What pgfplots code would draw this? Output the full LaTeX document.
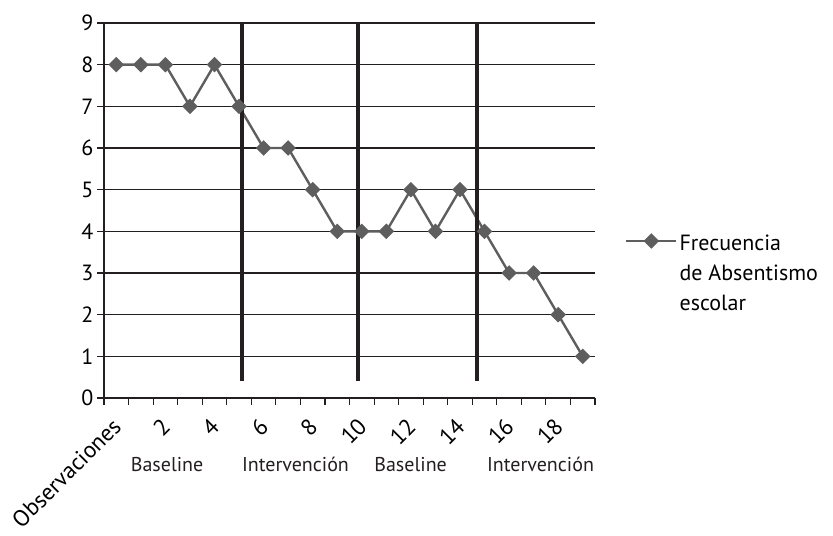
\documentclass[border=0pt]{standalone}
\usepackage{fontspec}
\setmainfont{PT Sans}
\usepackage{pgfplots}
\pgfplotsset{compat=1.18}
\definecolor{serie}{HTML}{5E5E5E}
\definecolor{tinta}{HTML}{231F20}
\begin{document}
\begin{tikzpicture}
\useasboundingbox (-104bp,-138bp) rectangle (729bp,398bp);
\begin{axis}[
  at={(0,0)}, anchor=south west,
  scale only axis, width=491bp, height=375bp,
  xmin=-0.5, xmax=19.5, ymin=0, ymax=9,
  axis x line*=bottom, axis y line*=left,
  axis line style={tinta, line width=1.3bp},
  xtick={-0.5,0.5,...,19.5}, xticklabels={},
  extra x ticks={0,2,...,18},
  extra x tick labels={Observaciones,2,4,6,8,10,12,14,16,18},
  extra x tick style={major tick length=0pt,
    xticklabel style={xshift=3bp, yshift=-22bp, rotate=45, anchor=east,
      font=\fontsize{23bp}{27bp}\selectfont}},
  ytick={0,...,9},
  tick align=outside, major tick length=7bp,
  tick style={tinta, line width=1.1bp},
  ymajorgrids, major grid style={tinta, line width=1.3bp},
  tick label style={font=\fontsize{22bp}{26bp}\selectfont},
  /pgf/number format/assume math mode=true,
  clip=false,
  legend style={at={(1.055,0.46)}, anchor=north west, draw=none, fill=none,
    font=\fontsize{22bp}{30bp}\selectfont, cells={anchor=west}},
  legend image code/.code={\draw[mark repeat=2,mark phase=2] plot coordinates {(0bp,0bp) (25bp,0bp) (50bp,0bp)};},
]
\addplot[serie, line width=2.4bp, mark=square*, mark size=4.3bp,
  mark options={rotate=45, serie}] coordinates {
  (0,8) (1,8) (2,8) (3,7) (4,8) (5,7) (6,6) (7,6) (8,5) (9,4)
  (10,4) (11,4) (12,5) (13,4) (14,5) (15,4) (16,3) (17,3) (18,2) (19,1)};
\addlegendentry{\begin{tabular}[t]{@{}l@{}}Frecuencia\\de Absentismo\\escolar\end{tabular}}
\draw[tinta, line width=4bp] (axis cs:5.12,0.42) -- (axis cs:5.12,9);
\draw[tinta, line width=4bp] (axis cs:9.85,0.42) -- (axis cs:9.85,9);
\draw[tinta, line width=4bp] (axis cs:14.69,0.42) -- (axis cs:14.69,9);
\begin{scope}[every node/.style={font=\fontsize{20bp}{24bp}\selectfont, text=tinta, anchor=base, yshift=-73bp}]
\node at (axis cs:2.07,0) {Baseline};
\node at (axis cs:7.3,0) {Intervención};
\node at (axis cs:11.99,0) {Baseline};
\node at (axis cs:17.28,0) {Intervención};
\end{scope}
\end{axis}
\end{tikzpicture}
\end{document}
